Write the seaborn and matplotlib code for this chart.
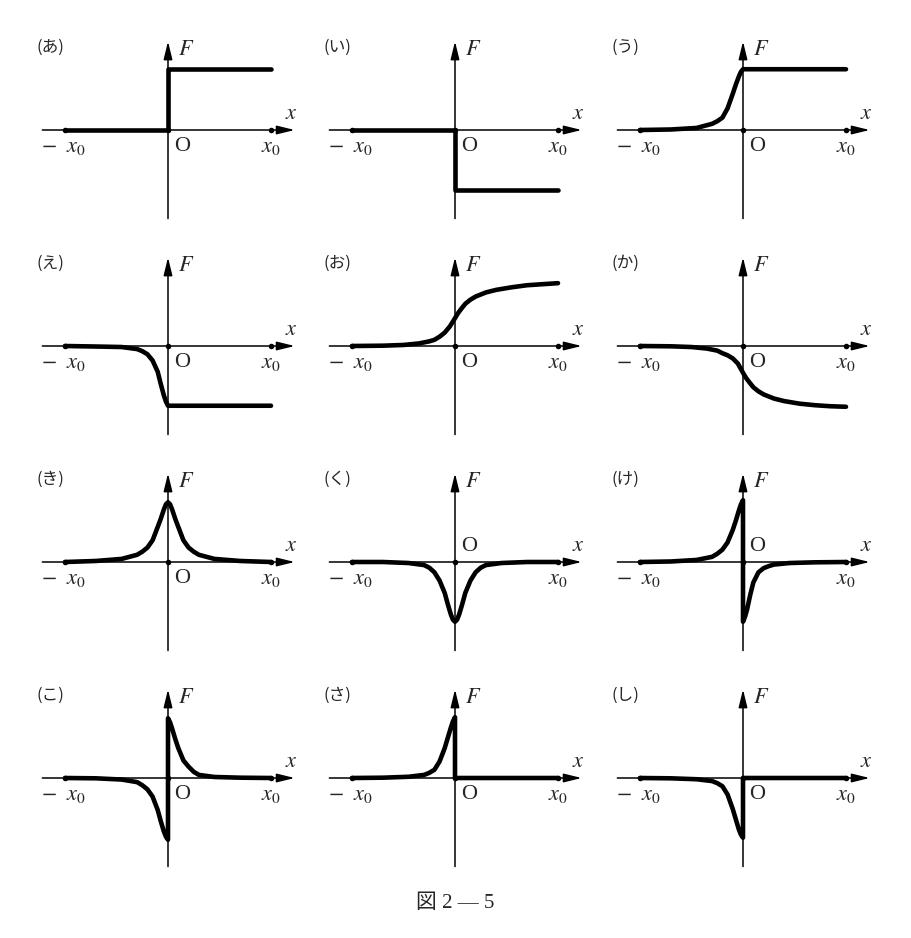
import matplotlib
matplotlib.use("Agg")
import matplotlib.pyplot as plt
import seaborn as sns

sns.set_theme(style="white")
plt.rcParams['font.family'] = ['Liberation Serif', 'Noto Sans CJK JP', 'DejaVu Sans']
plt.rcParams['mathtext.fontset'] = 'stix'

# panel labels, row by row
labels = ['あ', 'い', 'う', 'え', 'お', 'か', 'き', 'く', 'け', 'こ', 'さ', 'し']

# x in units of x0, F in the same drawing units
x_step = [-1, 0, 0, 1]
F_a = [0, 0, 0.59, 0.59]
F_i = [0, 0, -0.58, -0.58]

x_rise = [-1, -0.7, -0.45, -0.3, -0.25, -0.2, -0.15, -0.1, -0.07, -0.04, -0.02, 0, 1]
F_u = [0, 0.005, 0.02, 0.06, 0.085, 0.12, 0.21, 0.35, 0.44, 0.52, 0.565, 0.59, 0.59]
F_e = [0, -0.005, -0.01, -0.03, -0.05, -0.08, -0.14, -0.25, -0.37, -0.48, -0.54, -0.58, -0.58]

x_s = [-1, -0.7, -0.5, -0.35, -0.25, -0.2, -0.15, -0.1, -0.05, 0, 0.03, 0.06, 0.1,
       0.15, 0.2, 0.3, 0.4, 0.55, 0.7, 0.85, 1]
F_o = [0, 0.003, 0.01, 0.025, 0.045, 0.06, 0.09, 0.13, 0.19, 0.27, 0.32, 0.36, 0.41,
       0.45, 0.48, 0.52, 0.545, 0.57, 0.59, 0.60, 0.61]
F_ka = [0, -0.003, -0.01, -0.025, -0.045, -0.07, -0.09, -0.12, -0.17, -0.26, -0.31, -0.35, -0.40,
        -0.44, -0.47, -0.51, -0.535, -0.56, -0.575, -0.585, -0.59]

x_peak = [-1, -0.7, -0.45, -0.3, -0.25, -0.2, -0.15, -0.1, -0.07, -0.04, -0.02, 0,
          0.02, 0.04, 0.07, 0.1, 0.15, 0.2, 0.25, 0.3, 0.45, 0.7, 1]
F_ki = [0, 0.01, 0.03, 0.07, 0.1, 0.14, 0.21, 0.34, 0.42, 0.51, 0.56, 0.58,
        0.56, 0.51, 0.42, 0.34, 0.21, 0.14, 0.1, 0.07, 0.03, 0.01, 0]
F_ku = [0, 0, -0.01, -0.03, -0.055, -0.1, -0.18, -0.3, -0.41, -0.51, -0.56, -0.58,
        -0.56, -0.51, -0.41, -0.3, -0.18, -0.1, -0.055, -0.03, -0.01, 0, 0]

x_jump = [-1, -0.7, -0.45, -0.3, -0.25, -0.2, -0.15, -0.1, -0.07, -0.04, -0.02, 0,
          0, 0.02, 0.04, 0.07, 0.1, 0.15, 0.2, 0.25, 0.3, 0.45, 0.7, 1]
F_ke = [0, 0.005, 0.02, 0.05, 0.08, 0.12, 0.19, 0.31, 0.40, 0.50, 0.56, 0.60,
        -0.58, -0.53, -0.46, -0.32, -0.2, -0.1, -0.06, -0.04, -0.025, -0.01, -0.003, 0]
F_ko = [0, -0.003, -0.015, -0.04, -0.07, -0.11, -0.18, -0.31, -0.42, -0.52, -0.57, -0.60,
        0.58, 0.54, 0.48, 0.38, 0.29, 0.17, 0.11, 0.06, 0.03, 0.01, 0.003, 0]

x_cut = [-1, -0.7, -0.45, -0.3, -0.25, -0.2, -0.15, -0.1, -0.07, -0.04, -0.02, 0, 0, 1]
F_sa = [0, 0.003, 0.012, 0.03, 0.05, 0.08, 0.16, 0.29, 0.39, 0.49, 0.55, 0.59, 0, 0]
F_shi = [0, -0.003, -0.012, -0.03, -0.05, -0.08, -0.16, -0.3, -0.4, -0.5, -0.55, -0.58, 0, 0]

curves = [(x_step, F_a), (x_step, F_i), (x_rise, F_u),
          (x_rise, F_e), (x_s, F_o), (x_s, F_ka),
          (x_peak, F_ki), (x_peak, F_ku), (x_jump, F_ke),
          (x_jump, F_ko), (x_cut, F_sa), (x_cut, F_shi)]
origin_above = ['く', 'け']

W, H = 912, 938
fig = plt.figure(figsize=(W / 100, H / 100), dpi=100)
col_px = [168, 455, 743]
row_px = [130, 346, 562, 778]
unit = 103.0  # pixels per x0
xr, yr = 1.3, 0.9

for i, (lab, (xs, Fs)) in enumerate(zip(labels, curves)):
    ox, oy = col_px[i % 3], row_px[i // 3]
    ax = fig.add_axes([(ox - xr * unit) / W, (H - oy - yr * unit) / H,
                       2 * xr * unit / W, 2 * yr * unit / H])
    ax.set_xlim(-xr, xr)
    ax.set_ylim(-yr, yr)
    ax.axis('off')

    arrow = dict(arrowstyle='-|>,head_length=0.9,head_width=0.22', lw=1.1,
                 color='black', mutation_scale=12, shrinkA=0, shrinkB=0)
    ax.annotate('', xy=(1.23, 0), xytext=(-1.22, 0), arrowprops=arrow)
    ax.annotate('', xy=(0, 0.86), xytext=(0, -0.86), arrowprops=arrow)

    sns.lineplot(x=xs, y=Fs, sort=False, estimator=None, color='black',
                 lw=3.3, ax=ax, legend=False)
    sns.scatterplot(x=[-1, 0, 1], y=[0, 0, 0], color='black', s=16,
                    linewidth=0, ax=ax, zorder=5)

    ax.text(-1.28, 0.80, '(' + lab + ')', fontsize=12, ha='left', va='center',
            family=['Noto Sans CJK JP', 'DejaVu Sans'])
    ax.text(0.10, 0.77, r'$F$', fontsize=16, ha='left', va='center')
    ax.text(1.20, 0.15, r'$x$', fontsize=16, ha='center', va='center')
    ax.text(-1.01, -0.17, r'$-\ \ x_0$', fontsize=16, ha='center', va='center')
    ax.text(1.0, -0.17, r'$x_0$', fontsize=16, ha='center', va='center')
    oy_txt = 0.15 if lab in origin_above else -0.165
    ax.text(0.14, oy_txt, 'O', fontsize=16, ha='center', va='center')

fig.text(455 / W, 1 - 903 / H, '図 2 — 5', fontsize=15, ha='center', va='center',
         family=['Liberation Serif', 'Noto Sans CJK JP'])

fig.savefig('out.png', dpi=100, facecolor='white')
